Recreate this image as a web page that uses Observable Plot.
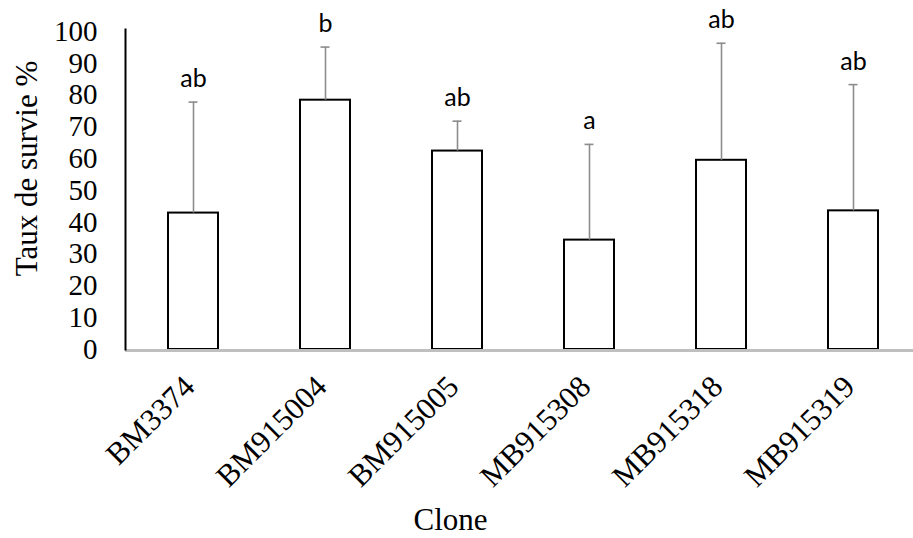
<!DOCTYPE html>
<html>
<head>
<meta charset="utf-8">
<script src="https://cdn.jsdelivr.net/npm/d3@7"></script>
<script src="https://cdn.jsdelivr.net/npm/@observablehq/plot@0.6"></script>
<style>
  html, body { margin: 0; padding: 0; background: #fff; }
  #chart svg { display: block; }
</style>
</head>
<body>
<div id="chart"></div>
<script>
const clones = ["BM3374", "BM915004", "BM915005", "MB915308", "MB915318", "MB915319"];
const means = [42.9, 78.4, 62.4, 34.4, 59.5, 43.6];
const sds = [34.9, 16.7, 9.4, 30.1, 36.8, 39.7];
const letters = ["ab", "b", "ab", "a", "ab", "ab"];
const yTicks = [0, 10, 20, 30, 40, 50, 60, 70, 80, 90, 100];

const data = clones.map((c, i) => ({
  clone: c, mean: means[i], upper: means[i] + sds[i], letter: letters[i]
}));

const serif = "'Liberation Serif', 'Times New Roman', serif";

const chart = Plot.plot({
  width: 913,
  height: 538,
  marginLeft: 125,
  marginRight: 0,
  marginTop: 29,
  marginBottom: 189,
  style: { background: "#fff", color: "#000" },
  x: { domain: clones, range: [125, 922], paddingInner: 0.62, paddingOuter: 0.31, axis: null },
  y: { domain: [0, 100], range: [349, 31], axis: null },
  marks: [
    Plot.barY(data, { x: "clone", y: "mean", fill: "#fff", stroke: "#000", strokeWidth: 2 }),
    Plot.ruleX(data, { x: "clone", y1: "mean", y2: "upper", stroke: "#8c8c8c", strokeWidth: 1.6 }),
    Plot.tickY(data, { x: "clone", y: "upper", stroke: "#8c8c8c", strokeWidth: 1.6, insetLeft: 20.5, insetRight: 20.5 }),
    Plot.ruleY([0], { stroke: "#bfbfbf", strokeWidth: 3, dy: 1 }),
    Plot.frame({ anchor: "left", stroke: "#000", strokeWidth: 2 }),
    Plot.axisY({ ticks: yTicks, tickSize: 0, tickPadding: 28, fontSize: 29, fontFamily: serif, label: null }),
    Plot.axisX({ tickRotate: -45, tickSize: 0, tickPadding: 28, dx: -4, dy: 4, fontSize: 31, fontFamily: serif, label: null }),
    Plot.text(data, { x: "clone", y: "upper", text: "letter", dy: -15, lineAnchor: "bottom", fontSize: 25, fontFamily: "Lato, 'Open Sans', sans-serif", fill: "#000" }),
    Plot.text(["Taux de survie %"], { frameAnchor: "left", textAnchor: "middle", rotate: -90, dx: -98, dy: -21, fontSize: 31, fontFamily: serif, fill: "#000" }),
    Plot.text(["Clone"], { frameAnchor: "bottom", dx: -69, dy: 171, lineAnchor: "middle", fontSize: 31, fontFamily: serif, fill: "#000" })
  ]
});

document.getElementById("chart").appendChild(chart);
</script>
</body>
</html>
